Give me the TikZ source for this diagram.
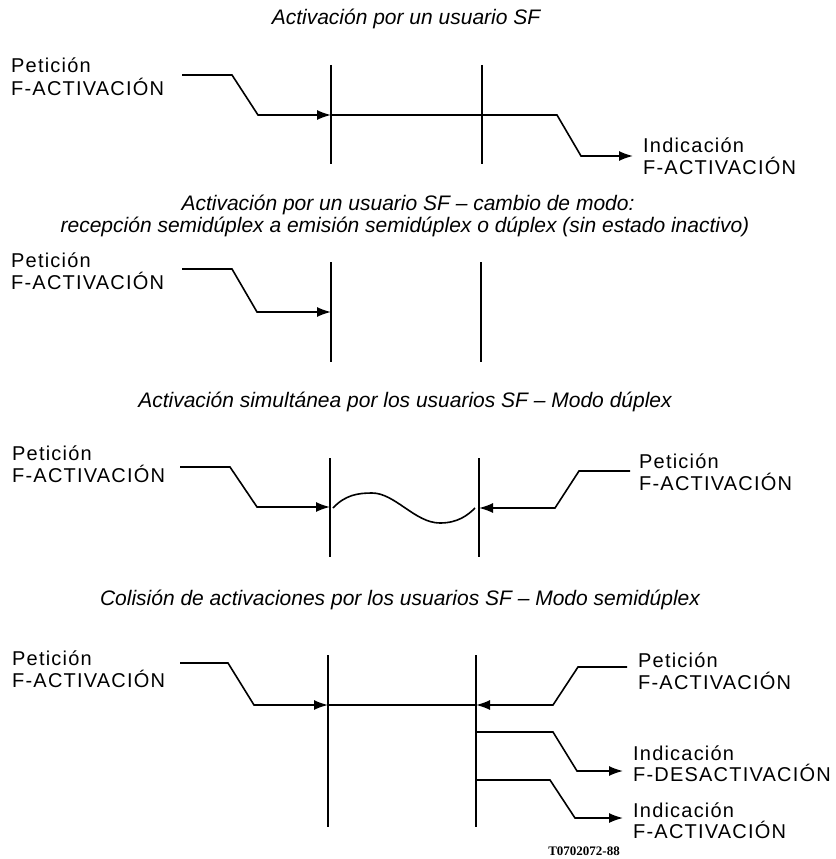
\documentclass[tikz,border=0pt]{standalone}
\usepackage{fontspec}
\setmainfont{Liberation Sans}
\newfontfamily\lblfont[LetterSpace=6]{Liberation Sans}
\newfontfamily\numfont{Liberation Serif}
\usetikzlibrary{arrows.meta,calc}

\tikzset{
	wire/.style={line width=1.6pt},
	sig/.style={wire,-{Latex[length=14pt,width=10pt]}},
	lbl/.style={anchor=base west,inner sep=0pt,font=\lblfont\fontsize{20}{20}\selectfont},
	ttl/.style={anchor=base,inner sep=0pt,font=\itshape\fontsize{21}{21}\selectfont},
}

\begin{document}
\begin{tikzpicture}[x=1pt,y=-1pt]
	\useasboundingbox (0,0) rectangle (835,859);

	% titles
	\node[ttl] (t1) at (406,25) {Activación por un usuario SF};
	\node[ttl] (t2) at (408,210) {Activación por un usuario SF -- cambio de modo:};
	\node[ttl] (t2b) at (405,232) {recepción semidúplex a emisión semidúplex o dúplex (sin estado inactivo)};
	\node[ttl] (t3) at (405,407) {Activación simultánea por los usuarios SF -- Modo dúplex};
	\node[ttl] (t4) at (400,605) {Colisión de activaciones por los usuarios SF -- Modo semidúplex};

	% the two time lines of each case
	\foreach \s/\xa/\xb/\ta/\ba in {1/331/482/65/164, 2/331/481/262/362, 3/330/479/458/557, 4/328/476/655/827}{
		\coordinate (ta\s) at (\xa,\ta);
		\coordinate (ba\s) at (\xa,\ba);
		\coordinate (tb\s) at (\xb,\ta);
		\coordinate (bb\s) at (\xb,\ba);
		\draw[wire] (ta\s) -- (ba\s);
		\draw[wire] (tb\s) -- (bb\s);
	}

	% case 1
	\node[lbl] (p1) at (11,72) {Petición};
	\node[lbl] (f1) at (11,95) {F-ACTIVACIÓN};
	\coordinate (i1) at (182,75);
	\coordinate (e1) at (331,115);
	\coordinate (o1) at (633,156);
	\draw[sig] (i1) -- ++(50,0) -- ([xshift=-73pt]e1) -- (e1);
	\draw[sig] (e1) -- ($(o1)+(-76,-41)$) -- ($(o1)+(-52,0)$) -- (o1);
	\node[lbl] (n1) at (643,152) {Indicación};
	\node[lbl] (g1) at (643,174) {F-ACTIVACIÓN};

	% case 2
	\node[lbl] (p2) at (11,267) {Petición};
	\node[lbl] (f2) at (11,289) {F-ACTIVACIÓN};
	\coordinate (i2) at (182,269);
	\coordinate (e2) at (331,312);
	\draw[sig] (i2) -- ++(50,0) -- ([xshift=-74pt]e2) -- (e2);

	% case 3
	\node[lbl] (p3) at (12,460) {Petición};
	\node[lbl] (f3) at (12,482) {F-ACTIVACIÓN};
	\coordinate (i3) at (180,467);
	\coordinate (e3) at (330,507);
	\draw[sig] (i3) -- ++(50,0) -- ([xshift=-73pt]e3) -- (e3);
	\draw[wire] (333,508) .. controls (345,495) and (358,493) .. (372,493)
		.. controls (395,493) and (415,523) .. (440,523)
		.. controls (458,523) and (468,515) .. (475,508);
	\coordinate (r3) at (630,471);
	\coordinate (k3) at (479,508);
	\draw[sig] (r3) -- ++(-51,0) -- ([xshift=76pt]k3) -- (k3);
	\node[lbl] (q3) at (639,468) {Petición};
	\node[lbl] (h3) at (639,490) {F-ACTIVACIÓN};

	% case 4
	\node[lbl] (p4) at (12,665) {Petición};
	\node[lbl] (f4) at (12,687) {F-ACTIVACIÓN};
	\coordinate (i4) at (180,663);
	\coordinate (e4) at (328,705);
	\coordinate (k4) at (476,705);
	\draw[sig] (i4) -- ++(48,0) -- ([xshift=-74pt]e4) -- (e4);
	\draw[wire] (e4) -- (k4);
	\coordinate (r4) at (627,667);
	\draw[sig] (r4) -- ++(-49,0) -- ([xshift=77pt]k4) -- (k4);
	\node[lbl] (q4) at (638,667) {Petición};
	\node[lbl] (h4) at (638,689) {F-ACTIVACIÓN};

	\coordinate (d1) at (476,732);
	\coordinate (c1) at (623,771);
	\draw[sig] (d1) -- ++(77,0) -- ($(c1)+(-46,0)$) -- (c1);
	\node[lbl] (n4) at (633,760) {Indicación};
	\node[lbl] (g4) at (633,781) {F-DESACTIVACIÓN};

	\coordinate (d2) at (476,780);
	\coordinate (c2) at (623,818);
	\draw[sig] (d2) -- ++(74,0) -- ($(c2)+(-48,0)$) -- (c2);
	\node[lbl] (n5) at (633,817) {Indicación};
	\node[lbl] (g5) at (633,838) {F-ACTIVACIÓN};

	\node[font=\numfont\bfseries\fontsize{13}{13}\selectfont] (ref) at (584,851) {T0702072-88};
\end{tikzpicture}
\end{document}
